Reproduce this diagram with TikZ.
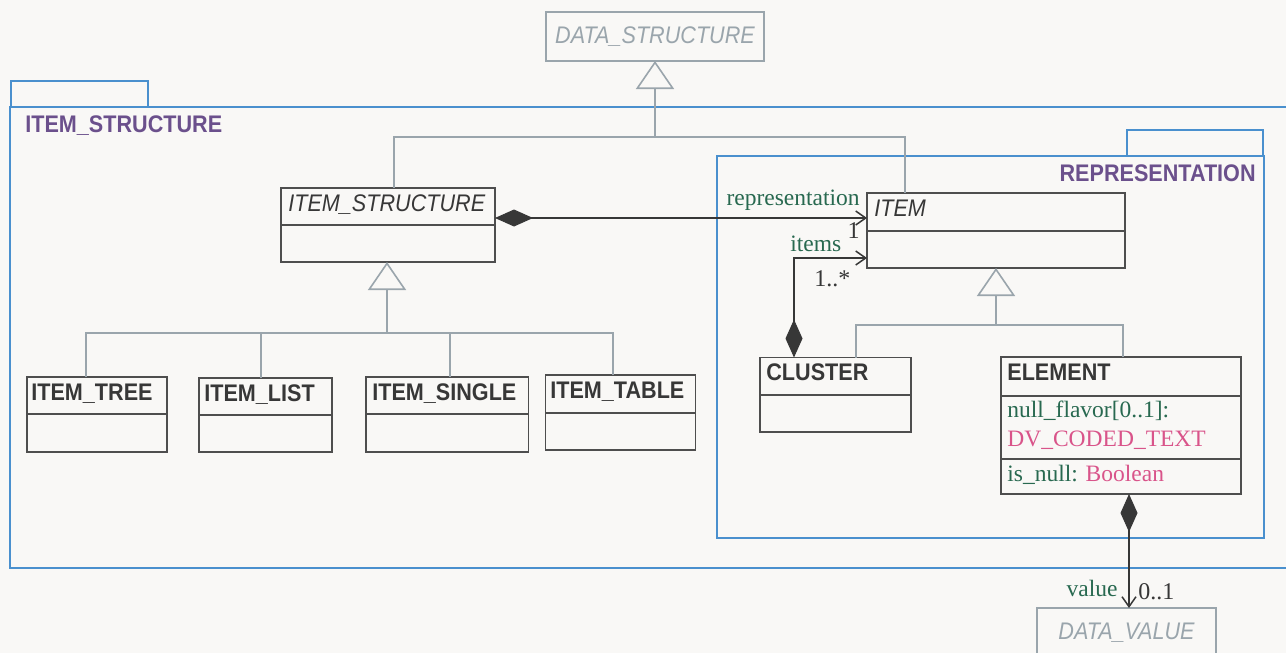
\documentclass[tikz,border=0pt]{standalone}
\usepackage{fontspec}
\setmainfont{Liberation Serif}
\newfontfamily\umlsans[FakeStretch=0.9]{Liberation Sans}
\usepackage{xcolor}
\usepackage{tikz}
\usetikzlibrary{arrows.meta}
\definecolor{pkgblue}{RGB}{74,144,206}
\definecolor{pkgpurple}{RGB}{107,80,140}
\definecolor{linegray}{RGB}{154,165,172}
\definecolor{boxgray}{RGB}{78,78,78}
\definecolor{inkdark}{RGB}{55,55,55}
\definecolor{attrgreen}{RGB}{40,105,80}
\definecolor{typepink}{RGB}{217,84,138}
\definecolor{bgcream}{RGB}{249,248,246}
\tikzset{every picture/.style={line width=0.75pt}}
\tikzset{
  pkgframe/.style={draw=pkgblue, line width=2.2pt},
  pkgname/.style={inner sep=0pt, text=pkgpurple, font=\umlsans\bfseries\fontsize{24}{28}\selectfont},
  classbox/.style={draw=boxgray, line width=1.3pt, inner sep=0pt, outer sep=0pt, anchor=north west},
  classline/.style={draw=boxgray, line width=1.3pt},
  classname/.style={anchor=base west, inner sep=0pt, text=inkdark, font=\umlsans\bfseries\fontsize{24}{28}\selectfont},
  classital/.style={anchor=base west, inner sep=0pt, text=inkdark, font=\umlsans\itshape\fontsize{24}{28}\selectfont},
  extclass/.style={draw=linegray, line width=1.6pt, inner sep=0pt, outer sep=0pt, text=linegray, font=\umlsans\itshape\fontsize{24}{28}\selectfont},
  attr/.style={anchor=base west, inner sep=0pt, text=attrgreen, font=\fontsize{23.5}{27}\selectfont},
  attrtype/.style={attr, text=typepink},
  rolename/.style={inner sep=0pt, text=attrgreen, font=\fontsize{23.5}{27}\selectfont},
  mult/.style={inner sep=0pt, text=inkdark, font=\fontsize{24}{28}\selectfont},
  genline/.style={draw=linegray, line width=1.6pt},
  genarrow/.style={genline, -{Triangle[open, length=28pt, width=38pt]}},
  compo/.style={draw=inkdark, line width=2.6pt, {Diamond[length=38pt, width=17pt, line width=1pt]}-{Straight Barb[length=10pt, width=14pt, line width=1.5pt]}}
}
\begin{document}
\begin{tikzpicture}[x=1pt,y=1pt,yscale=-1,xscale=1]
    \useasboundingbox (0,0) rectangle (1286,653);
    \clip (0,0) rectangle (1286,653);
    \fill[bgcream] (0,0) rectangle (1286,653);
    % packages
    \draw[pkgframe] (10,107) rectangle (1300,568);
    \draw[pkgframe] (11,81) rectangle (148,107);
    \draw[pkgframe] (717,156) rectangle (1264,538);
    \draw[pkgframe] (1127,130) rectangle (1263,156);
    \node[pkgname, anchor=base west] (pkgitem) at (25,132) {ITEM\_STRUCTURE};
    \node[pkgname, anchor=base east] (pkgrep) at (1256,181) {REPRESENTATION};
    % outside classes
    \node[extclass, minimum width=218pt, minimum height=49pt] (datastruct) at (655,36.5) {DATA\_STRUCTURE};
    \node[extclass, minimum width=179pt, minimum height=49pt] (datavalue) at (1126.5,632.5) {DATA\_VALUE};
    % ITEM_STRUCTURE
    \node[classbox, minimum width=214pt, minimum height=74pt] (struct) at (281,188) {};
    \draw[classline] (281,225) -- (495,225);
    \node[classital] (structname) at (288,211) {ITEM\_STRUCTURE};
    % subclasses
    \node[classbox, minimum width=140pt, minimum height=75pt] (tree) at (27,377) {};
    \draw[classline] (27,414) -- (167,414);
    \node[classname] (treename) at (31,400) {ITEM\_TREE};
    \node[classbox, minimum width=133pt, minimum height=74pt] (list) at (199,378) {};
    \draw[classline] (199,415) -- (332,415);
    \node[classname] (listname) at (204,401) {ITEM\_LIST};
    \node[classbox, minimum width=162.5pt, minimum height=75pt] (single) at (366,377) {};
    \draw[classline] (366,414) -- (528.5,414);
    \node[classname] (singlename) at (372,400) {ITEM\_SINGLE};
    \node[classbox, minimum width=150pt, minimum height=75pt] (table) at (545.5,375) {};
    \draw[classline] (545.5,413) -- (695.5,413);
    \node[classname] (tablename) at (550,398) {ITEM\_TABLE};
    % REPRESENTATION
    \node[classbox, minimum width=258pt, minimum height=75pt] (item) at (867,193) {};
    \draw[classline] (867,231) -- (1125,231);
    \node[classital] (itemname) at (874,216) {ITEM};
    \node[classbox, minimum width=151pt, minimum height=74.5pt] (cluster) at (760,357.5) {};
    \draw[classline] (760,395) -- (911,395);
    \node[classname] (clustername) at (766,380.5) {CLUSTER};
    \node[classbox, minimum width=240pt, minimum height=137pt] (element) at (1001,357) {};
    \draw[classline] (1001,396) -- (1241,396);
    \draw[classline] (1001,459) -- (1241,459);
    \node[classname] (elementname) at (1007,380) {ELEMENT};
    \node[attr] (nullflavor) at (1007,417) {null\_flavor[0..1]:};
    \node[attrtype] (nulltype) at (1007,446) {DV\_CODED\_TEXT};
    \node[attr] (isnull) at (1007,481) {is\_null: \textcolor{typepink}{Boolean}};
    % inheritance
    \coordinate (hubtop) at (655,137);
    \draw[genline] (struct.north -| 394,0) |- (hubtop);
    \draw[genline] (item.north -| 905,0) |- (hubtop);
    \draw[genarrow] (hubtop) -- (datastruct.south);
    \coordinate (hubstruct) at (387,333);
    \draw[genline] (tree.north -| 86,0) |- (hubstruct);
    \draw[genline] (list.north -| 261,0) |- (hubstruct);
    \draw[genline] (single.north -| 450,0) |- (hubstruct);
    \draw[genline] (table.north -| 613,0) |- (hubstruct);
    \draw[genarrow] (hubstruct) -- (struct.south -| 387,0);
    \coordinate (hubitem) at (996,325);
    \draw[genline] (cluster.north -| 856,0) |- (hubitem);
    \draw[genline] (element.north -| 1123,0) |- (hubitem);
    \draw[genarrow] (hubitem) -- (item.south -| 996,0);
    % composition
    \draw[compo] (struct.east |- 0,218) -- (item.west |- 0,218);
    \draw[compo] (cluster.north -| 794,0) |- (item.west |- 0,258);
    \draw[compo] (element.south -| 1129,0) -- (datavalue.north -| 1129,0);
    \node[rolename, anchor=base east] (rolerep) at (860,205) {representation};
    \node[mult, anchor=base east] (multrep) at (860,238) {1};
    \node[rolename, anchor=base west] (roleitems) at (790,251) {items};
    \node[mult, anchor=base west] (multitems) at (814,286) {1..*};
    \node[rolename, anchor=base east] (rolevalue) at (1118,596) {value};
    \node[mult, anchor=base west] (multvalue) at (1138,599) {0..1};
\end{tikzpicture}
\end{document}
